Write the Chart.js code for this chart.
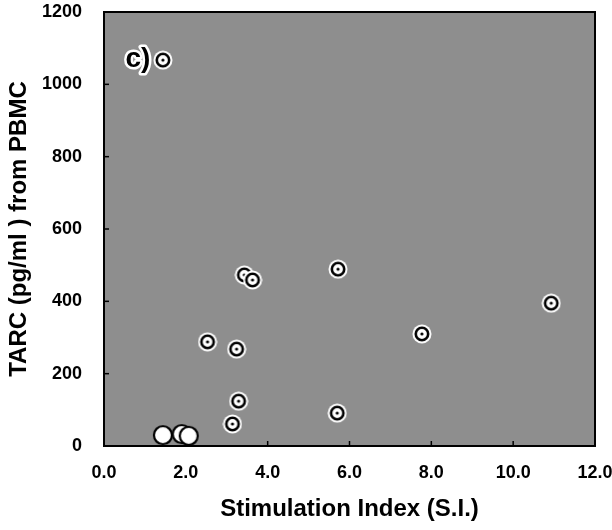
<!DOCTYPE html>
<html><head><meta charset="utf-8">
<script src="https://cdn.jsdelivr.net/npm/chart.js@4"></script>
<style>html,body{margin:0;padding:0;background:#fff}#wrap{width:612px;height:530px}</style>
</head><body><div id="wrap"><canvas id="c" width="612" height="530"></canvas></div>
<script>
const ringX = [1.44, 3.43, 3.63, 5.72, 10.93, 7.77, 2.53, 3.24, 3.29, 3.14, 5.70];
const ringY = [1067, 473, 459, 489, 395, 310, 288, 268, 124, 61, 91];
const openX = [1.44, 1.90, 2.07];
const openY = [30, 33, 28];
const xTicks = [0, 2, 4, 6, 8, 10, 12];
const yTicks = [0, 200, 400, 600, 800, 1000, 1200];
const panelLabel = 'c)';
const xTitle = 'Stimulation Index (S.I.)';
const yTitle = 'TARC (pg/ml ) from PBMC';

const FAMILY = "'Liberation Sans', Arial, Helvetica, sans-serif";

function ringImg(){
  const c = document.createElement('canvas'); c.width = c.height = 20;
  const g = c.getContext('2d'); const m = 10;
  g.fillStyle = '#fff'; g.beginPath(); g.arc(m, m, 9.5, 0, 2*Math.PI); g.fill();
  g.strokeStyle = '#000'; g.lineWidth = 2.6; g.beginPath(); g.arc(m, m, 6.2, 0, 2*Math.PI); g.stroke();
  g.fillStyle = '#000'; g.beginPath(); g.arc(m, m, 1.6, 0, 2*Math.PI); g.fill();
  return c;
}
function openImg(){
  const c = document.createElement('canvas'); c.width = c.height = 22;
  const g = c.getContext('2d'); const m = 11;
  g.fillStyle = '#fff'; g.beginPath(); g.arc(m, m, 9, 0, 2*Math.PI); g.fill();
  g.strokeStyle = '#000'; g.lineWidth = 2.2; g.stroke();
  return c;
}

const deco = {
  id: 'deco',
  beforeDatasetsDraw(chart){
    const {ctx, chartArea: a, scales} = chart;
    ctx.save();
    ctx.fillStyle = '#8e8e8e';
    ctx.fillRect(a.left, a.top, a.right - a.left, a.bottom - a.top);
    ctx.strokeStyle = '#000'; ctx.lineWidth = 2;
    ctx.strokeRect(a.left, a.top, a.right - a.left, a.bottom - a.top);
    ctx.lineWidth = 1.5;
    scales.x.ticks.forEach(t => {
      const px = scales.x.getPixelForValue(t.value);
      ctx.beginPath(); ctx.moveTo(px, a.bottom); ctx.lineTo(px, a.bottom - 5); ctx.stroke();
    });
    scales.y.ticks.forEach(t => {
      const py = scales.y.getPixelForValue(t.value);
      ctx.beginPath(); ctx.moveTo(a.left, py); ctx.lineTo(a.left + 5, py); ctx.stroke();
    });
    ctx.restore();
  },
  afterDatasetsDraw(chart){
    const {ctx, chartArea: a} = chart;
    ctx.save();
    ctx.font = 'bold 28px ' + FAMILY;
    ctx.textAlign = 'center'; ctx.textBaseline = 'middle';
    ctx.lineWidth = 5; ctx.strokeStyle = '#fff'; ctx.lineJoin = 'round';
    ctx.strokeText(panelLabel, a.left + 34, a.top + 47);
    ctx.fillStyle = '#000';
    ctx.fillText(panelLabel, a.left + 34, a.top + 47);
    ctx.restore();
  }
};

const tickFont = {family: FAMILY, weight: 'bold', size: 18};
const titleFont = {family: FAMILY, weight: 'bold', size: 24};

new Chart(document.getElementById('c'), {
  type: 'scatter',
  data: {
    datasets: [
      {
        label: 'ring',
        data: ringX.map((x, i) => ({x, y: ringY[i]})),
        pointStyle: ringImg(),
        clip: false
      },
      {
        label: 'open',
        data: openX.map((x, i) => ({x, y: openY[i]})),
        pointStyle: openImg(),
        clip: false
      }
    ]
  },
  options: {
    responsive: false,
    animation: false,
    events: [],
    layout: {padding: {top: 12, right: 17, left: 0, bottom: 0}},
    plugins: {legend: {display: false}, tooltip: {enabled: false}},
    scales: {
      x: {
        type: 'linear', min: 0, max: 12,
        afterBuildTicks: s => { s.ticks = xTicks.map(v => ({value: v})); },
        ticks: {callback: v => Number(v).toFixed(1), font: tickFont, color: '#000', padding: 16, maxRotation: 0, minRotation: 0, autoSkip: false},
        grid: {display: false, drawTicks: false},
        border: {display: false},
        title: {display: true, text: xTitle, font: titleFont, color: '#000', padding: {top: 0, bottom: 6}},
        afterFit: s => { s.height = 84; s.paddingLeft = 0; s.paddingRight = 0; }
      },
      y: {
        type: 'linear', min: 0, max: 1200,
        afterBuildTicks: s => { s.ticks = yTicks.map(v => ({value: v})); },
        ticks: {callback: v => String(v), font: tickFont, color: '#000', padding: 22, autoSkip: false},
        grid: {display: false, drawTicks: false},
        border: {display: false},
        title: {display: true, text: yTitle, font: titleFont, color: '#000', padding: {top: 5, bottom: 0}},
        afterFit: s => { s.width = 104; s.paddingTop = 0; s.paddingBottom = 0; }
      }
    }
  },
  plugins: [deco]
});
</script>
</body></html>
